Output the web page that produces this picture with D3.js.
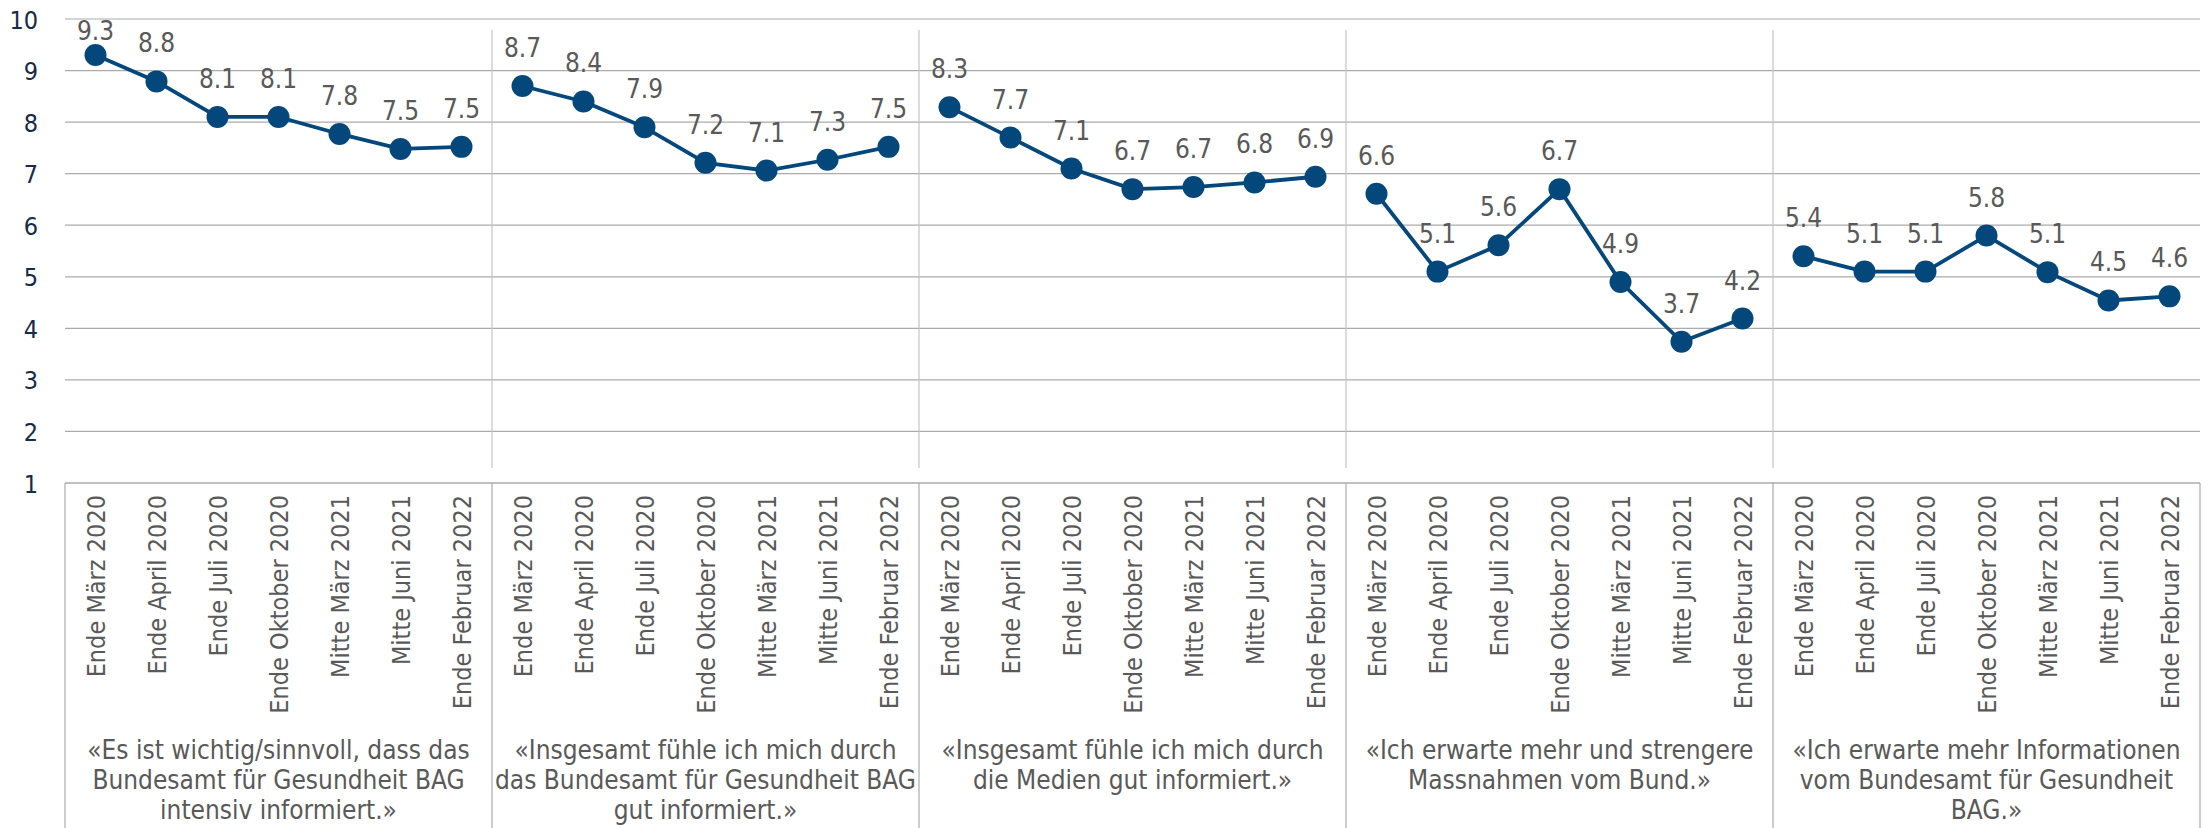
<!DOCTYPE html>
<html lang="de">
<head>
<meta charset="utf-8">
<title>Vertrauen und Informationsbedürfnis</title>
<script src="https://cdn.jsdelivr.net/npm/d3@7"></script>
<style>
  html, body { margin: 0; padding: 0; background: #ffffff; }
  svg { display: block; }
  text { font-family: "DejaVu Sans Condensed", "DejaVu Sans", sans-serif; font-stretch: condensed; }
</style>
</head>
<body>
<svg id="chart" width="2210" height="828"></svg>
<script>
// Survey waves (repeated inside every statement block)
const periods = [
  "Ende März 2020", "Ende April 2020", "Ende Juli 2020", "Ende Oktober 2020",
  "Mitte März 2021", "Mitte Juni 2021", "Ende Februar 2022"
];

// Statement captions, one array of lines per block
const statements = [
  ["«Es ist wichtig/sinnvoll, dass das", "Bundesamt für Gesundheit BAG", "intensiv informiert.»"],
  ["«Insgesamt fühle ich mich durch", "das Bundesamt für Gesundheit BAG", "gut informiert.»"],
  ["«Insgesamt fühle ich mich durch", "die Medien gut informiert.»"],
  ["«Ich erwarte mehr und strengere", "Massnahmen vom Bund.»"],
  ["«Ich erwarte mehr Informationen", "vom Bundesamt für Gesundheit", "BAG.»"]
];

// Mean agreement (scale 1–10) per wave
const bagInformiertWichtig = [9.30, 8.79, 8.10, 8.10, 7.77, 7.48, 7.52];
const bagGutInformiert     = [8.70, 8.40, 7.90, 7.21, 7.06, 7.27, 7.52];
const medienGutInformiert  = [8.29, 7.70, 7.10, 6.70, 6.74, 6.83, 6.94];
const mehrMassnahmen       = [6.61, 5.10, 5.61, 6.70, 4.90, 3.74, 4.19];
const mehrInformationenBAG = [5.40, 5.10, 5.10, 5.80, 5.09, 4.54, 4.62];

const yTicks = [1, 2, 3, 4, 5, 6, 7, 8, 9, 10];

const seriesList = [bagInformiertWichtig, bagGutInformiert, medienGutInformiert, mehrMassnahmen, mehrInformationenBAG];

// ---- layout ----
const W = 2210, H = 828;
const plotLeft = 65, plotRight = 2200, plotTop = 19, plotBottom = 483;
const lineColor = "#03477b";
const labelGray = "#595959";
const gridGray = "#ababab";
const sepGray = "#c4c4c4";

const svg = d3.select("#chart");

// flattened category keys: statement index + wave index
const keys = [];
statements.forEach((s, gi) => periods.forEach((p, pi) => keys.push(gi + "|" + pi)));

const x = d3.scaleBand().domain(keys).range([plotLeft, plotRight]).paddingInner(0).paddingOuter(0);
const xGroup = d3.scaleBand().domain(d3.range(statements.length)).range([plotLeft, plotRight]);
const y = d3.scaleLinear().domain([1, 10]).range([plotBottom, plotTop]);
const cx = k => x(k) + x.bandwidth() / 2;

// horizontal gridlines
svg.append("g")
  .selectAll("line")
  .data(yTicks)
  .join("line")
  .attr("x1", plotLeft).attr("x2", plotRight)
  .attr("y1", d => y(d)).attr("y2", d => y(d))
  .attr("stroke", gridGray).attr("stroke-width", 1.2);

// y axis labels
const yAxis = d3.axisLeft(y).tickValues(yTicks).tickSize(0).tickPadding(0).tickFormat(d3.format("d"));
svg.append("g")
  .attr("transform", "translate(38,0)")
  .call(yAxis)
  .call(g => g.select(".domain").remove())
  .call(g => g.attr("font-family", null).attr("font-size", null))
  .call(g => g.selectAll("text")
    .attr("font-size", 25)
    .attr("fill", "#172b47")
    .attr("dy", "0.36em"));

// block separators inside the plot area
const boundaries = d3.range(1, statements.length).map(i => xGroup(i));
svg.append("g")
  .selectAll("line")
  .data(boundaries)
  .join("line")
  .attr("x1", d => d).attr("x2", d => d)
  .attr("y1", 30).attr("y2", 468)
  .attr("stroke", sepGray).attr("stroke-width", 1.2);

// category table below the plot
const table = svg.append("g");
table.append("line")
  .attr("x1", plotLeft).attr("x2", plotRight).attr("y1", plotBottom).attr("y2", plotBottom)
  .attr("stroke", gridGray).attr("stroke-width", 1.2);
table.selectAll("line.v")
  .data([plotLeft, ...boundaries, plotRight])
  .join("line")
  .attr("class", "v")
  .attr("x1", d => d).attr("x2", d => d)
  .attr("y1", plotBottom).attr("y2", H)
  .attr("stroke", gridGray).attr("stroke-width", 1.2);

// rotated wave labels
table.selectAll("text.period")
  .data(keys)
  .join("text")
  .attr("class", "period")
  .attr("transform", d => `translate(${cx(d)},495) rotate(-90)`)
  .attr("text-anchor", "end")
  .attr("dy", "0.36em")
  .attr("font-size", 25)
  .attr("fill", labelGray)
  .text(d => periods[+d.split("|")[1]]);

// statement captions
table.selectAll("text.statement")
  .data(statements)
  .join("text")
  .attr("class", "statement")
  .attr("text-anchor", "middle")
  .attr("font-size", 26)
  .attr("fill", labelGray)
  .each(function (lines, gi) {
    d3.select(this).selectAll("tspan")
      .data(lines)
      .join("tspan")
      .attr("x", xGroup(gi) + xGroup.bandwidth() / 2)
      .attr("y", (l, li) => 759 + li * 30)
      .text(l => l);
  });

// lines, markers and value labels, one block per statement
const fmt = d3.format(".1f");
const path = d3.line().x(d => cx(d.key)).y(d => y(d.v));

seriesList.forEach((vals, gi) => {
  const pts = vals.map((v, i) => ({ v, key: gi + "|" + i }));
  const g = svg.append("g");
  g.append("path")
    .datum(pts)
    .attr("fill", "none")
    .attr("stroke", lineColor)
    .attr("stroke-width", 3.8)
    .attr("stroke-linejoin", "round")
    .attr("d", path);
  g.selectAll("circle")
    .data(pts)
    .join("circle")
    .attr("cx", d => cx(d.key))
    .attr("cy", d => y(d.v))
    .attr("r", 11)
    .attr("fill", lineColor);
  g.selectAll("text")
    .data(pts)
    .join("text")
    .attr("x", d => cx(d.key))
    .attr("y", d => Math.max(y(d.v) - 29, 40))
    .attr("text-anchor", "middle")
    .attr("font-size", 26)
    .attr("fill", labelGray)
    .text(d => fmt(d.v));
});
</script>
</body>
</html>
